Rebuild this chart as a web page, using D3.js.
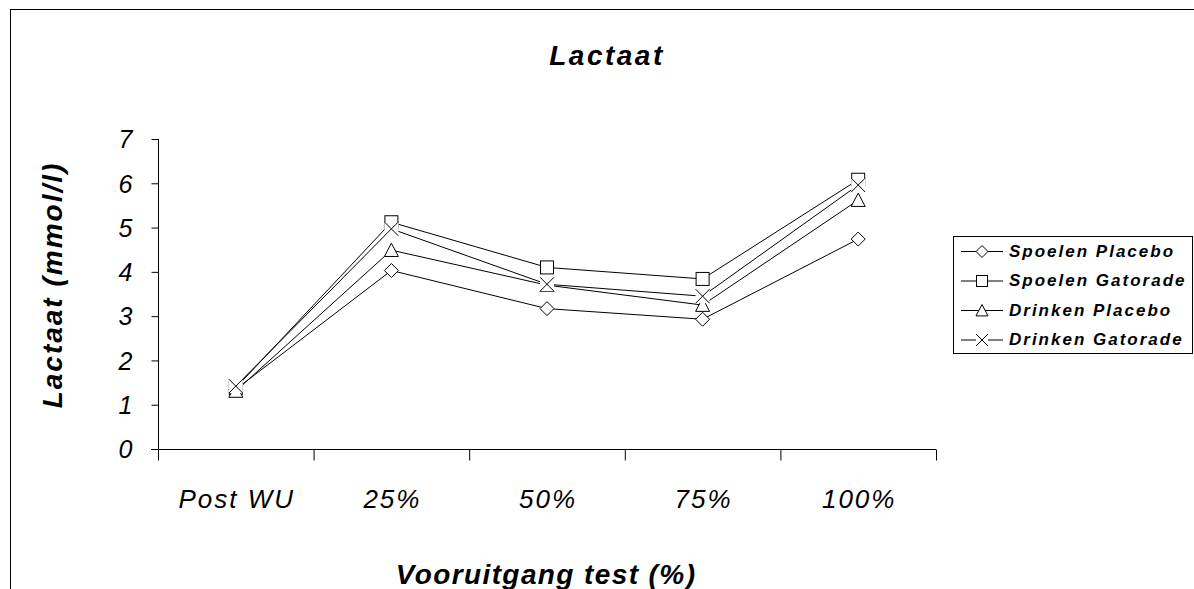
<!DOCTYPE html>
<html>
<head>
<meta charset="utf-8">
<script src="https://cdn.jsdelivr.net/npm/d3@7"></script>
<style>
  body { margin: 0; background: #fff; }
  text { font-family: Arial, "Liberation Sans", sans-serif; font-style: italic; fill: #000; }
</style>
</head>
<body>
<div id="chart"></div>
<script>
// data
const categories = ["Post WU", "25%", "50%", "75%", "100%"];
const seriesNames = ["Spoelen Placebo", "Spoelen Gatorade", "Drinken Placebo", "Drinken Gatorade"];
const spoelenPlacebo = [1.35, 4.03, 3.17, 2.93, 4.74];
const spoelenGatorade = [1.38, 5.12, 4.10, 3.84, 6.08];
const drinkenPlacebo = [1.31, 4.49, 3.70, 3.25, 5.62];
const drinkenGatorade = [1.42, 4.97, 3.72, 3.45, 5.96];
const yTicks = [0, 1, 2, 3, 4, 5, 6, 7];
const markerTypes = ["diamond", "square", "triangle", "cross"];

const W = 1194, H = 589;
const svg = d3.select("#chart").append("svg")
  .attr("width", W).attr("height", H);

// outer frame (runs off the right / bottom edge)
svg.append("rect")
  .attr("x", 10.5).attr("y", 9.5)
  .attr("width", 1200).attr("height", 600)
  .attr("fill", "none").attr("stroke", "#000");

const plot = { left: 158, right: 936, top: 139, bottom: 449 };

const x = d3.scaleBand().domain(categories).range([plot.left, plot.right]);
const y = d3.scaleLinear().domain([0, 7]).range([plot.bottom, plot.top]);

// y axis
const yAxis = svg.append("g")
  .attr("transform", `translate(${plot.left + 0.5},0)`)
  .call(d3.axisLeft(y).tickValues(yTicks).tickSize(7).tickPadding(19).tickFormat(d3.format("d")));
yAxis.select(".domain").attr("d", `M0,${plot.top}V${plot.bottom + 9}`);
yAxis.selectAll("text").style("font-size", "25px").attr("dy", "0.35em");

// x axis
const xAxis = svg.append("g")
  .attr("transform", `translate(0,${plot.bottom + 0.5})`)
  .call(d3.axisBottom(x).tickSize(0).tickPadding(40));
xAxis.select(".domain").attr("d", `M${plot.left - 7},0H${plot.right}`);
xAxis.selectAll("text").style("font-size", "26px").style("letter-spacing", "2px")
  .attr("dx", "1px");
// ticks between categories
xAxis.selectAll(".sep")
  .data(categories.map(c => x(c)).concat([plot.right]))
  .enter().append("line")
  .attr("x1", d => d + 0.5).attr("x2", d => d + 0.5)
  .attr("y1", 0).attr("y2", 11)
  .attr("stroke", "#000");
svg.selectAll(".domain, .tick line").attr("stroke", "#000");

// titles
svg.append("text")
  .attr("x", 607).attr("y", 65)
  .attr("text-anchor", "middle")
  .style("font-size", "28px").style("font-weight", "bold").style("letter-spacing", "2.5px")
  .text("Lactaat");

svg.append("text")
  .attr("x", 546).attr("y", 584)
  .attr("text-anchor", "middle")
  .style("font-size", "28px").style("font-weight", "bold").style("letter-spacing", "1.4px")
  .text("Vooruitgang test (%)");

svg.append("text")
  .attr("transform", "translate(62,285) rotate(-90)")
  .attr("text-anchor", "middle")
  .style("font-size", "28px").style("font-weight", "bold").style("letter-spacing", "2px")
  .text("Lactaat (mmol/l)");

// series
const seriesData = [spoelenPlacebo, spoelenGatorade, drinkenPlacebo, drinkenGatorade];
const series = seriesNames.map((name, i) => ({
  name: name,
  marker: markerTypes[i],
  values: seriesData[i].map((v, j) => ({ cat: categories[j], v: v }))
}));

const cx = d => x(d.cat) + x.bandwidth() / 2;
const line = d3.line().x(cx).y(d => y(d.v));

svg.append("g").selectAll("path")
  .data(series)
  .enter().append("path")
  .attr("d", d => line(d.values))
  .attr("fill", "none")
  .attr("stroke", "#000")
  .attr("stroke-width", 1);

function drawMarker(g, type, s) {
  const h = s / 2;
  if (type === "diamond") {
    g.append("path").attr("d", `M0,${-h}L${h},0L0,${h}L${-h},0Z`)
      .attr("fill", "#fff").attr("stroke", "#000");
  } else if (type === "square") {
    g.append("rect").attr("x", -h + 0.5).attr("y", -h + 0.5).attr("width", s - 1).attr("height", s - 1)
      .attr("fill", "#fff").attr("stroke", "#000");
  } else if (type === "triangle") {
    g.append("path").attr("d", `M0,${-h}L${h},${h * 0.9}L${-h},${h * 0.9}Z`)
      .attr("fill", "#fff").attr("stroke", "#000");
  } else {
    g.append("rect").attr("x", -h).attr("y", -h).attr("width", s).attr("height", s)
      .attr("fill", "#fff");
    g.append("path").attr("d", `M${-h},${-h}L${h},${h}M${h},${-h}L${-h},${h}`)
      .attr("stroke", "#000");
  }
}

series.forEach(s => {
  s.values.forEach(d => {
    const g = svg.append("g").attr("transform", `translate(${cx(d)},${y(d.v)})`);
    drawMarker(g, s.marker, 14);
  });
});

// legend
const legend = svg.append("g").attr("transform", "translate(953,236)");
legend.append("rect")
  .attr("x", 0.5).attr("y", 0.5).attr("width", 239).attr("height", 117)
  .attr("fill", "#fff").attr("stroke", "#000");
series.forEach((s, i) => {
  const row = legend.append("g").attr("transform", `translate(0,${15 + i * 29.5})`);
  row.append("line").attr("x1", 8).attr("x2", 50).attr("y1", 0.5).attr("y2", 0.5).attr("stroke", "#000");
  const m = row.append("g").attr("transform", "translate(29,0.5)");
  drawMarker(m, s.marker, 12);
  row.append("text")
    .attr("x", 56).attr("y", 0).attr("dy", "0.35em")
    .style("font-size", "17px").style("font-weight", "bold").style("letter-spacing", "2px")
    .text(s.name);
});
</script>
</body>
</html>
